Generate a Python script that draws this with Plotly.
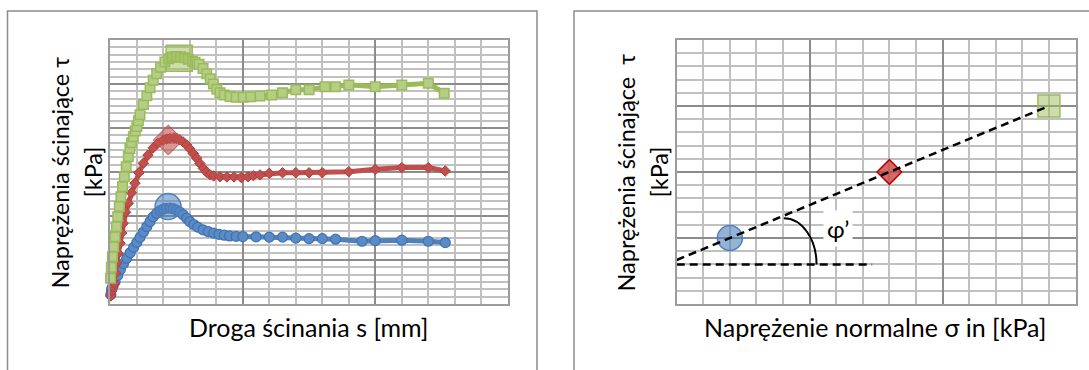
import numpy as np
import plotly.graph_objects as go

W, H = 1089, 370
FONT = "Lato"

# ---- direct shear test: shear stress vs. horizontal displacement ----
# displacement s [mm] and shear stress tau [kPa] for the three normal loads
blue_s = [0.02, 0.05, 0.10, 0.18, 0.28, 0.38, 0.50, 0.62, 0.75, 0.88,
          1.00, 1.12, 1.25, 1.38, 1.50, 1.62, 1.75, 1.88, 2.00, 2.12,
          2.25, 2.38, 2.50, 2.62, 2.75, 2.88, 3.00, 3.15, 3.30, 3.50,
          3.70, 3.90, 4.10, 4.30, 4.50, 4.75, 5.00, 5.50, 6.00, 6.50,
          7.00, 7.50, 8.00, 8.50, 9.50, 10.00, 11.00, 12.00, 12.64]
blue_tau = [6.5, 10.0, 12.5, 15.2, 19.5, 23.5, 27.6, 31.2, 34.9, 38.6,
            42.0, 45.4, 49.1, 52.8, 56.2, 59.4, 61.9, 63.6, 64.7, 65.3,
            65.4, 65.0, 64.0, 62.7, 60.8, 58.5, 56.2, 54.2, 52.4, 50.6,
            49.3, 48.3, 47.5, 46.9, 46.4, 46.1, 46.0, 45.8, 45.6, 45.6,
            44.9, 44.6, 44.6, 44.2, 42.8, 43.2, 43.5, 42.8, 41.9]

red_s = [0.02, 0.06, 0.10, 0.15, 0.20, 0.24, 0.30, 0.37, 0.43, 0.49,
         0.58, 0.68, 0.80, 0.93, 1.08, 1.25, 1.42, 1.62, 1.80, 2.00,
         2.13, 2.25, 2.40, 2.50, 2.62, 2.75, 2.88, 3.00, 3.13, 3.26,
         3.38, 3.51, 3.63, 3.76, 3.90, 4.14, 4.40, 4.67, 4.94, 5.20,
         5.40, 5.65, 6.00, 6.50, 7.00, 7.50, 8.00, 9.00, 10.00, 11.00,
         12.00, 12.64]
red_tau = [5.5, 9.0, 11.5, 14.1, 21.0, 27.8, 34.5, 41.4, 48.5, 55.0,
           62.5, 68.7, 75.8, 82.3, 89.5, 96.0, 101.5, 106.5, 109.6, 111.8,
           112.5, 113.0, 113.2, 113.0, 112.0, 110.5, 108.4, 105.8, 102.6, 99.4,
           95.8, 92.5, 90.0, 88.2, 87.3, 86.8, 86.6, 86.6, 86.3, 86.8,
           87.5, 88.0, 89.1, 89.5, 89.5, 89.5, 89.5, 90.2, 91.9, 93.0,
           93.0, 90.7]

green_s = [0.01, 0.04, 0.08, 0.13, 0.18, 0.23, 0.28, 0.34, 0.40, 0.46,
           0.53, 0.60, 0.68, 0.74, 0.80, 0.87, 0.94, 1.00, 1.06, 1.12,
           1.25, 1.38, 1.50, 1.62, 1.75, 1.90, 2.06, 2.20, 2.35, 2.50,
           2.65, 2.80, 2.95, 3.10, 3.20, 3.35, 3.50, 3.64, 3.77, 3.89,
           4.02, 4.14, 4.30, 4.52, 4.75, 5.02, 5.30, 5.65, 6.09, 6.50,
           7.00, 7.50, 8.10, 8.50, 9.00, 10.00, 11.00, 12.00, 12.60]
green_tau = [17.5, 25.0, 32.3, 39.0, 45.9, 52.7, 59.5, 66.4, 73.2, 80.0,
             86.8, 93.5, 100.5, 106.0, 110.0, 114.0, 118.0, 121.0, 125.0, 129.0,
             136.0, 142.0, 147.5, 152.5, 157.0, 161.5, 165.0, 167.2, 168.4, 168.8,
             168.6, 167.9, 166.8, 165.5, 164.8, 163.5, 160.5, 157.0, 153.5, 150.0,
             146.5, 144.0, 142.5, 141.4, 141.0, 141.0, 141.3, 141.9, 142.5, 144.1,
             146.0, 146.0, 148.2, 148.2, 149.4, 148.2, 149.4, 150.5, 143.7]

# peak shear stress picked from each curve
peak_s = [2.18, 2.19, 2.60]
peak_tau = [66.4, 111.8, 167.6]

# ---- Coulomb failure envelope ----
sigma_n = [40, 160, 280]      # normal stress [kPa]
tau_f = [50, 100, 150]        # shear strength [kPa]
ref_tau = 30                  # horizontal reference for the friction angle
ref_end = 147
angle_label = "φ’"

BLUE, RED, GREEN = "#4F81BD", "#C0504D", "#9BBB59"


def px_x(p):
    return p / W


def px_y(p):
    return 1 - p / H


fig = go.Figure()

# curves (dense Excel-like markers)
series = [
    (blue_s, blue_tau, BLUE, dict(symbol="circle", size=10, color="#5B8BC6",
                                  line=dict(color="#3F72B0", width=1.2))),
    (red_s, red_tau, RED, dict(symbol="diamond", size=8, color="#C0504D",
                               line=dict(color="#B03E3B", width=1))),
    (green_s, green_tau, GREEN, dict(symbol="square", size=9.5, color="#B5CD85",
                                     line=dict(color="#9BBB59", width=1.5))),
]
for xs, ys, col, mk in series:
    fig.add_trace(go.Scatter(x=xs, y=ys, mode="lines+markers",
                             line=dict(color=col, width=5), marker=mk,
                             cliponaxis=False, showlegend=False,
                             xaxis="x", yaxis="y"))

# peak markers
peak_styles = [
    dict(symbol="circle", size=26, color="rgba(79,129,189,0.55)", line=dict(color=BLUE, width=1.5)),
    dict(symbol="diamond", size=23, color="rgba(192,80,77,0.6)", line=dict(color=RED, width=1)),
    dict(symbol="square", size=26, color="rgba(155,187,89,0.5)", line=dict(color=GREEN, width=1.5)),
]
for i, mk in enumerate(peak_styles):
    fig.add_trace(go.Scatter(x=[peak_s[i]], y=[peak_tau[i]], mode="markers",
                             marker=mk, cliponaxis=False, showlegend=False,
                             xaxis="x", yaxis="y"))

# failure envelope points
env_styles = [
    dict(symbol="circle", size=25, color="rgba(79,129,189,0.6)", line=dict(color=BLUE, width=1.5)),
    dict(symbol="diamond", size=19, color="rgba(200,70,70,0.8)", line=dict(color="#C00000", width=1.5)),
    dict(symbol="square", size=22, color="rgba(155,187,89,0.5)", line=dict(color=GREEN, width=1.5)),
]
for i, mk in enumerate(env_styles):
    fig.add_trace(go.Scatter(x=[sigma_n[i]], y=[tau_f[i]], mode="markers",
                             marker=mk, cliponaxis=False, showlegend=False,
                             xaxis="x2", yaxis="y2"))

# linear envelope tau = c + sigma * tan(phi)
slope, intercept = np.polyfit(sigma_n, tau_f, 1)
env_x = [0, sigma_n[-1]]
env_y = [intercept + slope * v for v in env_x]
DASH = "8px,5px"
fig.add_trace(go.Scatter(x=env_x, y=env_y, mode="lines",
                         line=dict(color="black", width=2.5, dash=DASH),
                         showlegend=False, xaxis="x2", yaxis="y2"))
fig.add_trace(go.Scatter(x=[0, ref_end], y=[ref_tau, ref_tau], mode="lines",
                         line=dict(color="black", width=2.5, dash=DASH),
                         showlegend=False, xaxis="x2", yaxis="y2"))

# angle arc (quarter ellipse as a cubic Bezier)
cx, rx, ry = 80.6, 24.6, 35.0
k = 0.5523
arc = (f"M {cx},{ref_tau + ry} "
       f"C {cx + k * rx},{ref_tau + ry} {cx + rx},{ref_tau + k * ry} {cx + rx},{ref_tau}")
shapes = [dict(type="path", path=arc, xref="x2", yref="y2",
               line=dict(color="black", width=2))]

# chart-area frames
FRAME = "#8C8C8C"
shapes.append(dict(type="rect", xref="paper", yref="paper",
                   x0=px_x(7.5), x1=px_x(537), y0=-0.2, y1=px_y(11),
                   line=dict(color=FRAME, width=1.5), layer="below"))
shapes.append(dict(type="rect", xref="paper", yref="paper",
                   x0=px_x(574), x1=1.05, y0=-0.2, y1=px_y(11),
                   line=dict(color=FRAME, width=1.5), layer="below"))

MAJOR, MINOR, EDGE = "#8C8C8C", "#C0C0C0", "#9C9C9C"


def axis(domain, rng, dtick, mdtick, anchor):
    return dict(domain=domain, range=rng, dtick=dtick, tick0=0,
                showgrid=True, gridcolor=MAJOR, gridwidth=1.5,
                minor=dict(dtick=mdtick, tick0=0, showgrid=True,
                           gridcolor=MINOR, gridwidth=1.5),
                showticklabels=False, ticks="", zeroline=False,
                showline=True, linecolor=EDGE, linewidth=2, mirror=True,
                anchor=anchor, fixedrange=True)


yd = [px_y(304), px_y(40)]
fig.update_layout(
    width=W, height=H, autosize=False,
    margin=dict(l=0, r=0, t=0, b=0),
    paper_bgcolor="white", plot_bgcolor="white",
    font=dict(family=FONT, color="black"),
    xaxis=axis([px_x(110.3), px_x(507.8)], [0, 15], 5, 1, "y"),
    yaxis=axis(yd, [0, 180], 30, 5, "x"),
    xaxis2=axis([px_x(676.7), px_x(1075.5)], [0, 300], 100, 20, "y2"),
    yaxis2=axis(yd, [0, 200], 50, 10, "x2"),
    shapes=shapes,
)

XS, YS = 25, 23.5
ann = [
    dict(text="Droga ścinania s [mm]", x=px_x(308.5), y=px_y(327), size=XS),
    dict(text="Naprężenie normalne σ in [kPa]", x=px_x(875), y=px_y(327), size=XS),
    dict(text="Naprężenia ścinające τ", x=px_x(59), y=px_y(172.5), textangle=-90, size=YS),
    dict(text="[kPa]", x=px_x(92), y=px_y(172.5), textangle=-90, size=YS),
    dict(text="Naprężenia ścinające\u00a0 τ", x=px_x(625), y=px_y(172.5), textangle=-90, size=YS),
    dict(text="[kPa]", x=px_x(658), y=px_y(172.5), textangle=-90, size=YS),
]
for a in ann:
    size = a.pop("size")
    fig.add_annotation(xref="paper", yref="paper", showarrow=False,
                       xanchor="center", yanchor="middle",
                       font=dict(size=size, family=FONT, color="black"), **a)

fig.add_annotation(x=121.5, y=57.2, xref="x2", yref="y2", text=angle_label,
                   showarrow=False, bgcolor="white", borderpad=3,
                   font=dict(size=24, family=FONT, color="black"))

fig.write_html("out.html")
